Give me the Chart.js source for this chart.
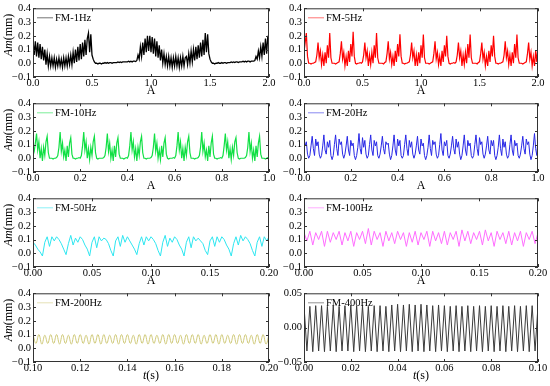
<!DOCTYPE html>
<html>
<head>
<meta charset="utf-8">
<script src="https://cdn.jsdelivr.net/npm/chart.js@4.4.1/dist/chart.umd.min.js"></script>
<style>
  html, body { margin: 0; padding: 0; background: #fff; }
  #wrap { position: relative; width: 550px; height: 386px; overflow: hidden; }
  canvas { position: absolute; }
</style>
</head>
<body>
<div id="wrap">
  <canvas id="c1" width="290" height="98" style="left:0;top:0"></canvas>
  <canvas id="c3" width="290" height="98" style="left:0;top:95px"></canvas>
  <canvas id="c5" width="290" height="98" style="left:0;top:190px"></canvas>
  <canvas id="c7" width="290" height="98" style="left:0;top:285px"></canvas>
  <canvas id="c2" width="275" height="98" style="left:275px;top:0"></canvas>
  <canvas id="c4" width="275" height="98" style="left:275px;top:95px"></canvas>
  <canvas id="c6" width="275" height="98" style="left:275px;top:190px"></canvas>
  <canvas id="c8" width="275" height="98" style="left:275px;top:285px"></canvas>
</div>
<script>
// amplitudes in mm, sampled at a fixed step starting at the given time

// FM-1Hz, t = 0 .. 2, step 0.01
const fm1 = [
  .17,.06,.16,.05,.15,.04,.14,.03,.12,.02,
  .10,-.01,.07,-.02,.05,-.02,.04,-.02,.04,-.03,
  .03,-.02,.04,-.02,.03,-.03,.04,-.02,.04,-.02,
  .05,-.01,.06,-.01,.08,.00,.10,.01,.12,.02,
  .14,.03,.15,.05,.17,.06,.18,.22,.08,.21,
  .06,.03,.01,.00,.00,-.005,.00,.00,-.005,.00,
  .00,.005,.00,.005,.00,.005,.005,.00,.005,.005,
  .005,.005,.01,.005,.01,.005,.01,.01,.01,.01,
  .01,.015,.01,.015,.01,.015,.015,.012,.02,.06,
  .03,.12,.05,.15,.06,.18,.08,.20,.09,.20,
  .08,.19,.07,.18,.05,.16,.04,.13,.02,.10,
  .00,.07,-.01,.05,-.02,.05,-.02,.04,-.03,.04,
  -.02,.05,-.02,.04,-.03,.04,-.02,.05,-.02,.04,
  .05,-.01,.07,.00,.09,.01,.10,.02,.12,.03,
  .13,.04,.15,.05,.17,.06,.22,.08,.21,.07,
  .03,.01,.00,.00,-.005,.00,.00,.005,.00,.00,
  .005,.00,.005,.005,.00,.005,.005,.005,.01,.005,
  .01,.005,.01,.01,.005,.01,.01,.01,.015,.01,
  .015,.01,.015,.015,.01,.015,.015,.015,.02,.05,
  .03,.09,.04,.12,.05,.15,.06,.18,.07,.20,
  .12
];

// FM-5Hz, t = 0 .. 2, step 0.01
const fm5 = [
  .08,.15,
  .22,.05,.00,.00,-.005,.00,.00,.005,.01,.06,.15,.04,.09,-.01,.06,-.02,.08,.00,.13,.04,
  .22,.04,.00,.00,.00,-.005,.00,.005,.01,.07,.16,.03,.08,-.02,.05,-.02,.09,.01,.14,.05,
  .23,.05,.00,-.005,.00,.00,.005,.00,.01,.06,.15,.04,.09,-.02,.06,-.01,.08,.00,.13,.04,
  .22,.04,.00,.00,.00,.00,-.005,.005,.01,.07,.16,.03,.08,-.01,.05,-.02,.09,.01,.14,.05,
  .21,.05,.00,.00,-.005,.00,.00,.005,.01,.06,.15,.04,.09,-.02,.06,-.02,.08,.00,.13,.04,
  .21,.04,.00,.00,.00,-.005,.00,.005,.01,.07,.16,.03,.08,-.01,.05,-.02,.09,.01,.13,.05,
  .20,.05,.00,-.005,.00,.00,.005,.00,.01,.06,.15,.04,.09,-.02,.06,-.01,.08,.00,.14,.04,
  .21,.04,.00,.00,.00,.00,-.005,.005,.01,.07,.15,.03,.08,-.02,.05,-.02,.09,.01,.13,.05,
  .20,.05,.00,.00,-.005,.00,.00,.005,.01,.06,.16,.04,.09,-.01,.06,-.02,.08,.00,.14,.04,
  .21,.04,.00,.00,.00,-.005,.00,.005,.01,.07,.15,.03,.08,-.02,.05,-.02,.09,.01,.12
];

// FM-10Hz, t = 0 .. 1, step 0.005
const fm10 = [
  .02,.05,.11,
  .18,.06,.12,.00,.07,-.02,.08,.02,.12,.16,.04,.00,.00,.00,-.005,.00,.00,.005,.02,.08,
  .19,.05,.11,.01,.06,-.02,.09,.01,.11,.15,.03,.00,.00,-.005,.00,.00,.005,.00,.02,.09,
  .19,.06,.12,.00,.07,-.01,.08,.02,.12,.16,.04,.00,-.005,.00,.00,.00,.00,.005,.02,.08,
  .18,.05,.11,.00,.06,-.02,.09,.01,.11,.15,.03,.00,.00,.00,-.005,.00,.005,.00,.02,.09,
  .19,.06,.12,.01,.07,-.02,.08,.02,.12,.16,.04,.00,.00,-.005,.00,.00,.00,.005,.02,.08,
  .18,.05,.11,.00,.06,-.01,.09,.01,.11,.15,.03,.00,-.005,.00,.00,.00,.005,.00,.02,.09,
  .19,.06,.12,.00,.07,-.02,.08,.02,.12,.16,.04,.00,.00,.00,-.005,.00,.00,.005,.02,.08,
  .19,.05,.11,.01,.06,-.02,.09,.01,.11,.16,.03,.00,.00,-.005,.00,.00,.005,.00,.02,.09,
  .18,.06,.12,.00,.07,-.01,.08,.02,.12,.15,.04,.00,-.005,.00,.00,.00,.00,.005,.02,.08,
  .19,.05,.11,.00,.06,-.02,.09,.01,.11,.16,.03,.00,.00,.00,-.005,.00,.005,.00
];

// FM-20Hz, t = 0 .. 1, step 0.005
const fm20 = [
  .13,.09,.12,.03,.00,.02,.09,
  .16,.07,.02,.14,.09,.12,.03,.00,.02,.09,
  .17,.06,.03,.12,.08,.13,.02,-.01,.02,.10,
  .17,.07,.02,.14,.10,.12,.03,.00,.03,.09,
  .16,.06,.02,.13,.09,.11,.02,-.01,.02,.08,
  .18,.07,.03,.15,.08,.13,.03,.00,.02,.10,
  .17,.06,.02,.13,.09,.12,.02,.00,.03,.09,
  .16,.07,.03,.12,.10,.11,.03,-.01,.02,.09,
  .17,.06,.02,.14,.09,.13,.02,.00,.02,.10,
  .17,.07,.02,.13,.08,.12,.03,.00,.03,.09,
  .16,.06,.03,.14,.09,.11,.02,-.01,.02,.08,
  .17,.07,.02,.13,.10,.12,.03,.00,.02,.10,
  .18,.06,.02,.12,.09,.13,.02,.00,.03,.09,
  .16,.07,.03,.14,.08,.12,.03,-.01,.02,.09,
  .17,.06,.02,.13,.09,.11,.02,.00,.02,.10,
  .17,.07,.02,.15,.10,.12,.03,.00,.03,.09,
  .16,.06,.03,.13,.09,.13,.02,-.01,.02,.08,
  .17,.07,.02,.14,.08,.12,.03,.00,.02,.10,
  .17,.06,.02,.13,.09,.11,.02,.00,.03,.09,
  .16,.07,.03,.14,.10,.12,.03,-.01,.02,.09,
  .18,.07,.02,.14
];

// FM-50Hz, t = 0 .. 0.2, step 0.002
const fm50 = [
  .08,.06,.03,.01,
  -.02,.08,.12,.05,.12,.09,.12,.10,.07,.03,
  -.01,.07,.13,.06,.11,.08,.12,.10,.06,.03,
  -.02,.08,.12,.04,.12,.09,.11,.10,.07,.02,
  -.02,.09,.12,.05,.13,.08,.12,.09,.06,.03,
  -.01,.07,.12,.06,.12,.09,.12,.10,.07,.02,
  -.02,.08,.13,.05,.11,.08,.12,.10,.06,.03,
  -.02,.08,.12,.04,.12,.09,.11,.09,.07,.02,
  -.01,.09,.12,.05,.12,.08,.12,.10,.06,.03,
  -.02,.07,.12,.06,.13,.09,.12,.10,.07,.02,
  -.02,.08,.12,.05,.12,.09,.12
];

// FM-100Hz, t = 0 .. 0.2, step 0.0025
const fm100 = [
  .15,.09,.16,.06,.15,.10,.16,.05,.16,.08,.15,.10,.16,.06,.15,.09,.16,.05,.15,.10,
  .16,.07,.18,.06,.16,.10,.15,.05,.16,.09,.15,.07,.16,.10,.15,.05,.15,.08,.16,.06,
  .15,.10,.16,.05,.16,.09,.15,.07,.16,.06,.15,.10,.16,.05,.17,.09,.16,.07,.15,.10,
  .16,.06,.17,.09,.15,.05,.16,.10,.15,.07,.16,.06,.15,.09,.16,.05,.15,.10,.16,.07,
  .15
];

// FM-200Hz, t = 0.10 .. 0.20, step 0.00125
const fm200 = [
  .10,.035,.10,.03,.095,.035,.10,.035,.10,.03,
  .10,.035,.095,.03,.10,.035,.10,.035,.095,.03,
  .10,.035,.10,.03,.10,.035,.095,.035,.10,.03,
  .10,.035,.10,.035,.095,.03,.10,.035,.10,.03,
  .10,.035,.095,.035,.10,.03,.10,.035,.10,.035,
  .095,.03,.10,.035,.10,.035,.10,.03,.095,.035,
  .10,.035,.10,.03,.10,.035,.095,.035,.10,.03,
  .10,.035,.10,.035,.095,.03,.10,.035,.10,.03,
  .10
];

// FM-400Hz, t = 0 .. 0.1, step 0.00125
const fm400 = [
  .032,-.034,.031,-.035,.032,-.034,.032,-.035,.031,-.034,
  .032,-.035,.031,-.034,.032,-.034,.033,-.035,.032,-.034,
  .032,-.035,.031,-.034,.032,-.035,.032,-.034,.031,-.035,
  .033,-.034,.034,-.035,.033,-.034,.034,-.035,.033,-.034,
  .034,-.035,.033,-.034,.032,-.035,.033,-.034,.032,-.035,
  .031,-.034,.032,-.035,.031,-.034,.032,-.035,.031,-.034,
  .032,-.035,.031,-.034,.032,-.035,.031,-.034,.032,-.035,
  .031,-.034,.032,-.035,.031,-.034,.032,-.035,.032,-.034,
  .032
];

const FONT = "'Liberation Serif', 'Times New Roman', serif";

function pts(start, step, ys) {
  return ys.map((y, i) => ({ x: +(start + i * step).toFixed(6), y: y }));
}

function fmt(v, d) {
  return v < 0 ? '\u2212' + Math.abs(v).toFixed(d) : Math.abs(v).toFixed(d);
}

// writes pieces of text in a row, some italic, centred on (cx, cy)
function drawParts(ctx, parts, cx, cy) {
  let total = 0;
  parts.forEach(p => {
    ctx.font = (p[1] ? 'italic ' : '') + '12px ' + FONT;
    total += ctx.measureText(p[0]).width;
  });
  let xx = cx - total / 2;
  ctx.textAlign = 'left';
  ctx.textBaseline = 'middle';
  parts.forEach(p => {
    ctx.font = (p[1] ? 'italic ' : '') + '12px ' + FONT;
    ctx.fillText(p[0], xx, cy);
    xx += ctx.measureText(p[0]).width;
  });
}

// box round the plot, inward ticks, legend and the axis titles
function framePlugin(o) {
  return {
    id: 'frame',
    afterDraw(chart) {
      const { ctx, chartArea: a, scales } = chart;
      ctx.save();
      ctx.strokeStyle = '#333';
      ctx.lineWidth = 1;
      ctx.strokeRect(a.left + 0.5, a.top + 0.5, a.right - a.left - 1, a.bottom - a.top - 1);
      ctx.beginPath();
      scales.x.ticks.forEach((t, i) => {
        const px = Math.round(scales.x.getPixelForTick(i)) + 0.5;
        ctx.moveTo(px, a.bottom); ctx.lineTo(px, a.bottom - 3);
        ctx.moveTo(px, a.top); ctx.lineTo(px, a.top + 3);
      });
      scales.y.ticks.forEach((t, i) => {
        const py = Math.round(scales.y.getPixelForTick(i)) + 0.5;
        ctx.moveTo(a.left, py); ctx.lineTo(a.left + 3, py);
        ctx.moveTo(a.right, py); ctx.lineTo(a.right - 3, py);
      });
      ctx.stroke();

      // legend entry
      const ds = chart.data.datasets[0];
      const ly = a.top + 9.5;
      ctx.globalAlpha = 0.55;
      ctx.strokeStyle = ds.borderColor;
      ctx.beginPath();
      ctx.moveTo(a.left + 4, ly); ctx.lineTo(a.left + 20, ly);
      ctx.stroke();
      ctx.globalAlpha = 1;
      ctx.fillStyle = '#000';
      ctx.font = '10.5px ' + FONT;
      ctx.textAlign = 'left';
      ctx.textBaseline = 'middle';
      ctx.fillText(ds.label, a.left + 22, ly);

      drawParts(ctx, o.xTitle, (a.left + a.right) / 2, 91);
      if (o.yTitle) {
        ctx.translate(9, 35);
        ctx.rotate(-Math.PI / 2);
        drawParts(ctx, o.yTitle, 0, 0);
      }
      ctx.restore();
    }
  };
}

function makeChart(id, o) {
  const left = id === 'c1' || id === 'c3' || id === 'c5' || id === 'c7';
  return new Chart(document.getElementById(id), {
    type: 'line',
    data: {
      datasets: [{
        label: o.label,
        data: o.data,
        borderColor: o.color,
        backgroundColor: o.color,
        borderWidth: o.width || 1,
        pointRadius: 0,
        tension: o.tension || 0
      }]
    },
    options: {
      responsive: false,
      animation: false,
      devicePixelRatio: 1,
      layout: { padding: { left: 0, top: 6, right: left ? 21 : 12, bottom: 0 } },
      scales: {
        x: {
          type: 'linear', min: o.xmin, max: o.xmax,
          grid: { display: false, drawTicks: false },
          border: { display: false },
          ticks: {
            stepSize: o.xstep, autoSkip: false, maxRotation: 0, padding: 0,
            color: '#000', font: { family: FONT, size: 10.5 },
            callback: v => fmt(v, o.xdec)
          },
          afterFit: s => { s.height = 21; }
        },
        y: {
          min: o.ymin, max: o.ymax,
          grid: { display: false, drawTicks: false },
          border: { display: false },
          ticks: {
            stepSize: o.ystep, autoSkip: false, padding: 2,
            color: '#000', font: { family: FONT, size: 10.5 },
            callback: v => fmt(v, o.ydec)
          },
          afterFit: s => { s.width = left ? 33 : 29; }
        }
      },
      plugins: {
        legend: { display: false },
        tooltip: { enabled: false }
      }
    },
    plugins: [framePlugin({ xTitle: o.xTitle, yTitle: left ? [['Am', true], ['(mm)', false]] : null })]
  });
}

const titleA = [['A', false]];
const titleT = [['t', true], ['(s)', false]];
const amp = { ymin: -0.1, ymax: 0.4, ystep: 0.1, ydec: 1 };

makeChart('c1', Object.assign({ label: 'FM-1Hz', color: '#000000', data: pts(0, 0.01, fm1),
  xmin: 0, xmax: 2, xstep: 0.5, xdec: 1, xTitle: titleA, width: 1.3 }, amp));
makeChart('c2', Object.assign({ label: 'FM-5Hz', color: '#ff0000', data: pts(0, 0.01, fm5),
  xmin: 0, xmax: 2, xstep: 0.5, xdec: 1, xTitle: titleA, width: 1.2 }, amp));
makeChart('c3', Object.assign({ label: 'FM-10Hz', color: '#11e044', data: pts(0, 0.005, fm10),
  xmin: 0, xmax: 1, xstep: 0.2, xdec: 1, xTitle: titleA, width: 1.2 }, amp));
makeChart('c4', Object.assign({ label: 'FM-20Hz', color: '#2828e6', data: pts(0, 0.005, fm20),
  xmin: 0, xmax: 1, xstep: 0.2, xdec: 1, xTitle: titleA }, amp));
makeChart('c5', Object.assign({ label: 'FM-50Hz', color: '#2ee6f0', data: pts(0, 0.002, fm50),
  xmin: 0, xmax: 0.2, xstep: 0.05, xdec: 2, xTitle: titleA }, amp));
makeChart('c6', Object.assign({ label: 'FM-100Hz', color: '#ff6cff', data: pts(0, 0.0025, fm100),
  xmin: 0, xmax: 0.2, xstep: 0.05, xdec: 2, xTitle: titleA }, amp));
makeChart('c7', Object.assign({ label: 'FM-200Hz', color: '#cfc97a', data: pts(0.1, 0.00125, fm200),
  xmin: 0.1, xmax: 0.2, xstep: 0.02, xdec: 2, xTitle: titleT, tension: 0.4 }, amp));
makeChart('c8', { label: 'FM-400Hz', color: '#3a3a3a', data: pts(0, 0.00125, fm400),
  xmin: 0, xmax: 0.1, xstep: 0.02, xdec: 2, xTitle: titleT,
  ymin: -0.05, ymax: 0.05, ystep: 0.05, ydec: 2 });
</script>
</body>
</html>
